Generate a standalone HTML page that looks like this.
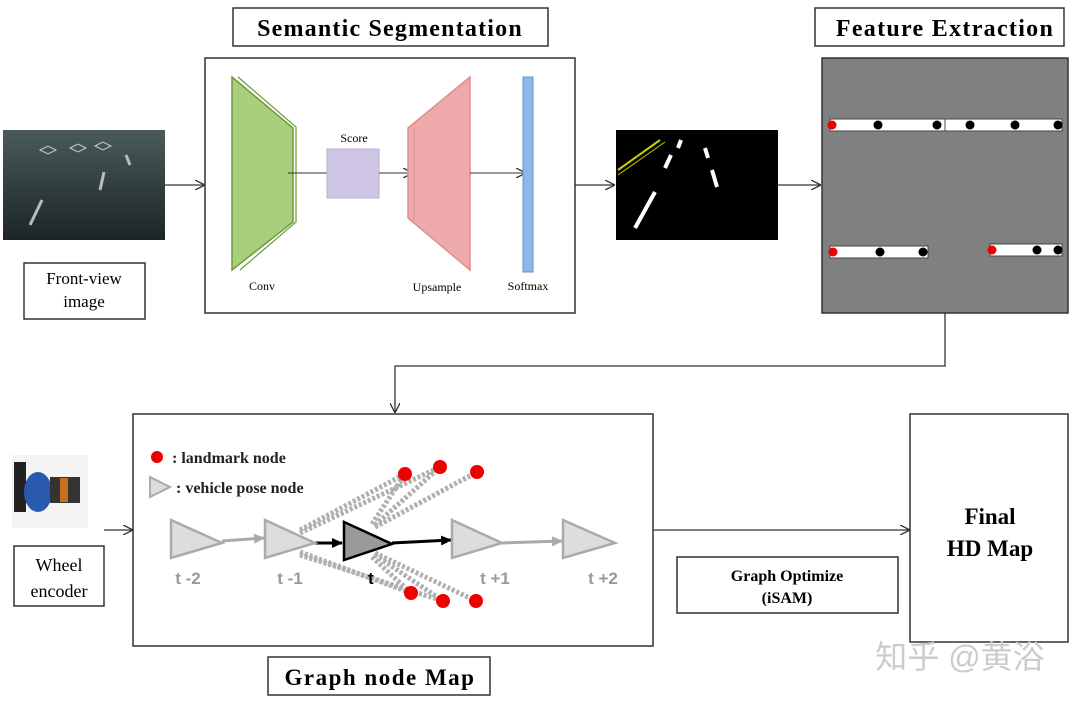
<!DOCTYPE html>
<html><head><meta charset="utf-8"><style>
html,body{margin:0;padding:0;background:#fff;width:1072px;height:706px;overflow:hidden}
</style></head><body>
<svg width="1072" height="706" viewBox="0 0 1072 706" xmlns="http://www.w3.org/2000/svg" font-family="Liberation Serif, serif">
<defs>
<marker id="a" markerWidth="10" markerHeight="10" refX="9" refY="5" orient="auto" markerUnits="userSpaceOnUse"><path d="M0,0 L10,5 L0,10" fill="none" stroke="#333" stroke-width="1.3"/></marker>
<marker id="b" markerWidth="12" markerHeight="12" refX="10" refY="6" orient="auto" markerUnits="userSpaceOnUse"><path d="M0,1 L11,6 L0,11 Z" fill="#000"/></marker>
<marker id="g" markerWidth="12" markerHeight="12" refX="10" refY="6" orient="auto" markerUnits="userSpaceOnUse"><path d="M0,1 L11,6 L0,11 Z" fill="#aaa"/></marker>
<linearGradient id="road" x1="0" y1="0" x2="0" y2="1"><stop offset="0" stop-color="#4a5a5a"/><stop offset="1" stop-color="#1c2525"/></linearGradient>
</defs>
<!-- Semantic Segmentation -->
<rect x="233" y="8" width="315" height="38" fill="#fff" stroke="#333" stroke-width="1.5"/>
<text x="390" y="36" text-anchor="middle" font-size="24" font-weight="bold" letter-spacing="1.2">Semantic Segmentation</text>
<rect x="205" y="58" width="370" height="255" fill="#fff" stroke="#333" stroke-width="1.5"/>
<polygon points="232,77 293,128 293,222 232,270" fill="#a9cf7c" stroke="#6e9a3a" stroke-width="1.5"/>
<polyline points="238,77 296,127 296,222 240,270" fill="none" stroke="#6e9a3a" stroke-width="1.2"/>
<line x1="288" y1="173" x2="327" y2="173" stroke="#333"/>
<rect x="327" y="149" width="52" height="49" fill="#cfc6e6" stroke="#b8aed6"/>
<text x="354" y="142" text-anchor="middle" font-size="12">Score</text>
<line x1="379" y1="173" x2="412" y2="173" stroke="#333" marker-end="url(#a)"/>
<polygon points="408,128 470,77 470,270 408,218" fill="#eeaaaa" stroke="#dd8e8e" stroke-width="1.5"/>
<line x1="414" y1="128" x2="414" y2="220" stroke="#dd8e8e"/>
<line x1="470" y1="173" x2="525" y2="173" stroke="#333" marker-end="url(#a)"/>
<rect x="523" y="77" width="10" height="195" fill="#8cb8e8" stroke="#5c94d4"/>
<text x="262" y="290" text-anchor="middle" font-size="12">Conv</text>
<text x="437" y="291" text-anchor="middle" font-size="12">Upsample</text>
<text x="528" y="290" text-anchor="middle" font-size="12">Softmax</text>
<!-- front view -->
<rect x="3" y="130" width="162" height="110" fill="url(#road)"/>
<g stroke="#bbb" stroke-width="3"><line x1="30" y1="225" x2="42" y2="200"/><line x1="100" y1="190" x2="104" y2="172"/><line x1="130" y1="165" x2="126" y2="155"/></g>
<g stroke="#ccc" stroke-width="1" fill="none"><path d="M40,150 l8,-4 l8,4 l-8,4z"/><path d="M70,148 l8,-4 l8,4 l-8,4z"/><path d="M95,146 l8,-4 l8,4 l-8,4z"/></g>
<rect x="24" y="263" width="121" height="56" fill="#fff" stroke="#333" stroke-width="1.5"/>
<text x="84" y="284" text-anchor="middle" font-size="17">Front-view</text>
<text x="84" y="307" text-anchor="middle" font-size="17">image</text>
<line x1="165" y1="185" x2="204" y2="185" stroke="#333" stroke-width="1.3" marker-end="url(#a)"/>
<line x1="575" y1="185" x2="614" y2="185" stroke="#333" stroke-width="1.3" marker-end="url(#a)"/>
<!-- seg image -->
<rect x="616" y="130" width="162" height="110" fill="#000"/>
<line x1="618" y1="170" x2="660" y2="140" stroke="#cc0" stroke-width="2"/>
<line x1="618" y1="175" x2="665" y2="142" stroke="#cc0" stroke-width="1"/>
<g stroke="#fff" stroke-width="4"><line x1="635" y1="228" x2="655" y2="192"/><line x1="665" y1="168" x2="671" y2="155"/><line x1="678" y1="148" x2="681" y2="140"/><line x1="717" y1="187" x2="712" y2="170"/><line x1="708" y1="158" x2="705" y2="148"/></g>
<line x1="778" y1="185" x2="820" y2="185" stroke="#333" stroke-width="1.3" marker-end="url(#a)"/>
<!-- Feature extraction -->
<rect x="815" y="8" width="249" height="38" fill="#fff" stroke="#333" stroke-width="1.5"/>
<text x="945" y="36" text-anchor="middle" font-size="24" font-weight="bold" letter-spacing="1.3">Feature Extraction</text>
<rect x="822" y="58" width="246" height="255" fill="#808080" stroke="#333" stroke-width="1.5"/>
<g fill="#fff" stroke="#444"><rect x="830" y="119" width="232" height="12"/><rect x="830" y="246" width="98" height="12"/><rect x="990" y="244" width="72" height="12"/></g>
<line x1="945" y1="119" x2="945" y2="131" stroke="#444"/>
<g fill="#000"><circle cx="878" cy="125" r="4.5"/><circle cx="937" cy="125" r="4.5"/><circle cx="970" cy="125" r="4.5"/><circle cx="1015" cy="125" r="4.5"/><circle cx="1058" cy="125" r="4.5"/><circle cx="880" cy="252" r="4.5"/><circle cx="923" cy="252" r="4.5"/><circle cx="1037" cy="250" r="4.5"/><circle cx="1058" cy="250" r="4.5"/></g>
<g fill="#e00"><circle cx="832" cy="125" r="4.5"/><circle cx="833" cy="252" r="4.5"/><circle cx="992" cy="250" r="4.5"/></g>
<polyline points="945,313 945,366 395,366 395,412" fill="none" stroke="#333" stroke-width="1.3" marker-end="url(#a)"/>
<!-- Graph -->
<rect x="133" y="414" width="520" height="232" fill="#fff" stroke="#333" stroke-width="1.5"/>
<circle cx="157" cy="457" r="6" fill="#e00"/>
<text x="172" y="463" font-size="16" font-weight="bold" fill="#222">: landmark node</text>
<polygon points="150,477 170,487 150,497" fill="#ddd" stroke="#aaa" stroke-width="2"/>
<text x="176" y="493" font-size="16" font-weight="bold" fill="#222">: vehicle pose node</text>
<g stroke="#b0b0b0" stroke-width="5" stroke-dasharray="3,2" fill="none">
<line x1="300" y1="530" x2="405" y2="474"/><line x1="300" y1="533" x2="440" y2="467"/>
<line x1="375" y1="525" x2="440" y2="467"/><line x1="375" y1="527" x2="477" y2="472"/><line x1="372" y1="524" x2="405" y2="474"/>
<line x1="300" y1="552" x2="411" y2="593"/><line x1="300" y1="555" x2="443" y2="601"/>
<line x1="375" y1="555" x2="443" y2="601"/><line x1="375" y1="553" x2="476" y2="601"/><line x1="372" y1="557" x2="411" y2="593"/>
</g>
<line x1="222" y1="541" x2="264" y2="538" stroke="#aaa" stroke-width="3" marker-end="url(#g)"/>
<line x1="315" y1="543" x2="342" y2="543" stroke="#000" stroke-width="3" marker-end="url(#b)"/>
<line x1="392" y1="543" x2="451" y2="540" stroke="#000" stroke-width="3" marker-end="url(#b)"/>
<line x1="500" y1="543" x2="562" y2="541" stroke="#aaa" stroke-width="3" marker-end="url(#g)"/>
<g fill="#ddd" stroke="#aaa" stroke-width="2.5">
<polygon points="171,520 222,543 171,558"/><polygon points="265,520 315,543 265,558"/>
<polygon points="452,520 502,543 452,558"/><polygon points="563,520 615,543 563,558"/></g>
<polygon points="344,522 392,544 344,560" fill="#999" stroke="#000" stroke-width="2.5"/>
<g fill="#e00"><circle cx="405" cy="474" r="7"/><circle cx="440" cy="467" r="7"/><circle cx="477" cy="472" r="7"/><circle cx="411" cy="593" r="7"/><circle cx="443" cy="601" r="7"/><circle cx="476" cy="601" r="7"/></g>
<g font-family="Liberation Sans, sans-serif" font-size="17" font-weight="bold" fill="#999" text-anchor="middle">
<text x="188" y="584">t -2</text><text x="290" y="584">t -1</text><text x="495" y="584">t +1</text><text x="603" y="584">t +2</text></g>
<text x="368" y="584" font-family="Liberation Sans, sans-serif" font-size="17" font-weight="bold" fill="#000">t</text>
<rect x="268" y="657" width="222" height="38" fill="#fff" stroke="#333" stroke-width="1.5"/>
<text x="380" y="685" text-anchor="middle" font-size="23" font-weight="bold" letter-spacing="1.5">Graph node Map</text>
<!-- wheel encoder -->
<rect x="12" y="455" width="76" height="73" fill="#f4f4f4"/>
<rect x="14" y="462" width="12" height="50" fill="#222"/>
<ellipse cx="38" cy="492" rx="14" ry="20" fill="#2a5ab0"/>
<rect x="50" y="477" width="30" height="26" fill="#333"/>
<rect x="60" y="478" width="8" height="24" fill="#c87020"/>
<rect x="14" y="546" width="90" height="60" fill="#fff" stroke="#333" stroke-width="1.5"/>
<text x="59" y="571" text-anchor="middle" font-size="18">Wheel</text>
<text x="59" y="597" text-anchor="middle" font-size="18">encoder</text>
<line x1="104" y1="530" x2="132" y2="530" stroke="#333" stroke-width="1.3" marker-end="url(#a)"/>
<line x1="653" y1="530" x2="909" y2="530" stroke="#333" stroke-width="1.3" marker-end="url(#a)"/>
<rect x="677" y="557" width="221" height="56" fill="#fff" stroke="#333" stroke-width="1.5"/>
<text x="787" y="581" text-anchor="middle" font-size="16" font-weight="bold">Graph Optimize</text>
<text x="787" y="603" text-anchor="middle" font-size="16" font-weight="bold">(iSAM)</text>
<rect x="910" y="414" width="158" height="228" fill="#fff" stroke="#333" stroke-width="1.5"/>
<text x="990" y="524" text-anchor="middle" font-size="23" font-weight="bold">Final</text>
<text x="990" y="556" text-anchor="middle" font-size="23" font-weight="bold">HD Map</text>
<text x="960" y="668" text-anchor="middle" font-family="Liberation Sans, Noto Sans CJK SC, sans-serif" font-size="32" fill="#ccc">知乎 @黄浴</text>
</svg>
</body></html>
